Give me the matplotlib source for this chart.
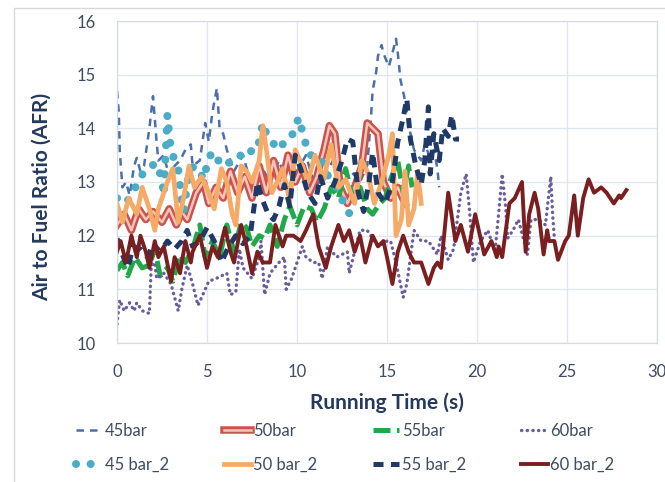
"""
AFR vs running time for the eight injection-pressure runs.
Values read off the reference chart by eye.
"""

import matplotlib
matplotlib.use("Agg")
import matplotlib.pyplot as plt
import matplotlib.patheffects as pe
from matplotlib.patches import Rectangle

plt.rcParams['font.family'] = ['Lato', 'DejaVu Sans']

# ---- data (time in s, AFR) ----
t_45 = [0.0, 0.1, 0.15, 0.3, 0.5, 0.7, 0.95, 1.1, 1.3, 1.5, 1.8, 2.0, 2.2, 2.3, 2.6, 2.9,
        3.2, 3.5, 3.8, 4.1, 4.2, 4.6, 4.9, 5.1, 5.3, 5.55, 5.7, 5.9, 6.1, 6.5, 7.0, 7.5,
        8.0, 8.5, 9.0, 9.5, 10.0, 10.5, 11.0, 11.5, 12.0, 12.5, 13.0, 13.5, 13.9, 14.1,
        14.2, 14.4, 14.5, 14.7, 14.8, 15.1, 15.3, 15.5, 15.6, 15.75, 15.95, 16.1, 16.3,
        16.5, 16.9, 17.1, 17.4, 17.6, 17.8, 17.9]
afr_45 = [14.7, 14.3, 13.6, 12.9, 13.0, 12.75, 13.3, 13.45, 13.2, 13.3, 14.0, 14.6, 13.75,
          13.4, 13.5, 13.1, 13.3, 13.4, 13.6, 13.7, 13.3, 13.4, 14.1, 13.75, 14.3, 14.75,
          14.0, 13.9, 13.6, 13.2, 13.5, 12.9, 13.3, 13.0, 13.4, 12.9, 13.2, 13.5, 12.9,
          13.1, 13.4, 12.9, 13.2, 13.0, 13.3, 14.15, 14.7, 15.05, 15.35, 15.55, 15.4,
          15.15, 15.4, 15.67, 15.4, 14.9, 14.6, 14.3, 13.9, 13.6, 13.4, 13.7, 13.45, 13.6,
          13.25, 12.9]

t_50 = [0.0, 0.4, 0.8, 1.2, 1.6, 2.0, 2.5, 2.9, 3.3, 3.6, 3.9, 4.4, 4.8, 5.1, 5.5, 5.9,
        6.3, 6.7, 7.1, 7.5, 7.9, 8.3, 8.7, 9.1, 9.5, 9.9, 10.3, 10.7, 11.1, 11.5, 11.8,
        12.1, 12.4, 12.8, 13.2, 13.6, 13.9, 14.2, 14.5, 14.8, 15.2, 15.6, 16.0]
afr_50 = [12.2, 12.4, 12.1, 12.5, 12.3, 12.45, 12.25, 12.5, 12.2, 12.45, 12.3, 12.8, 13.0,
          12.6, 12.9, 12.7, 13.2, 12.8, 13.1, 12.7, 13.3, 12.8, 13.4, 12.9, 13.5, 13.0,
          13.3, 12.8, 13.1, 13.6, 14.05, 13.9, 12.9, 12.6, 12.9, 13.3, 14.1, 14.0, 13.9,
          13.0, 12.7, 12.9, 12.6]

t_55 = [0.0, 0.3, 0.6, 1.0, 1.4, 1.8, 2.1, 2.4, 2.8, 3.1, 3.5, 3.8, 4.2, 4.6, 4.9, 5.3,
        5.7, 6.1, 6.5, 6.9, 7.2, 7.5, 7.9, 8.2, 8.5, 8.9, 9.3, 9.6, 10.0, 10.4, 10.8,
        11.1, 11.5, 11.9, 12.3, 12.7, 13.1, 13.5, 13.9, 14.2, 14.6, 14.9, 15.2, 15.6,
        15.9, 16.2, 16.4]
afr_55 = [11.35, 11.5, 11.25, 11.6, 11.4, 11.45, 11.75, 11.25, 11.4, 11.15, 11.65, 11.5,
          11.75, 12.2, 11.6, 11.9, 11.6, 12.2, 11.7, 12.25, 12.15, 11.8, 12.0, 11.95, 12.2,
          11.8, 12.3, 12.55, 12.2, 12.55, 12.5, 12.25, 12.5, 12.9, 12.7, 13.25, 12.7, 12.9,
          12.5, 12.4, 12.6, 12.7, 13.05, 13.4, 12.8, 13.3, 12.9]

t_60 = [0.0, 0.15, 0.4, 0.7, 0.95, 1.1, 1.4, 1.8, 1.9, 2.1, 2.2, 2.6, 3.0, 3.4, 3.6, 3.9,
        4.2, 4.5, 4.9, 5.1, 5.5, 6.1, 6.3, 6.6, 6.8, 7.0, 7.5, 7.9, 8.0, 8.2, 8.5, 9.0,
        9.3, 9.4, 9.7, 10.0, 10.3, 10.5, 10.9, 11.2, 11.4, 11.7, 12.2, 12.8, 12.9, 13.2,
        13.5, 13.9, 14.1, 14.5, 15.0, 15.2, 15.5, 15.9, 16.1, 16.5, 16.9, 17.3, 17.8,
        18.0, 18.4, 18.7, 19.1, 19.4, 19.6, 19.8, 20.2, 20.6, 21.0, 21.2, 21.4, 21.6,
        21.7, 22.0, 22.3, 22.8, 23.0, 23.4, 23.8, 24.1, 24.2, 24.3]
afr_60 = [10.35, 10.8, 10.6, 10.75, 10.6, 10.75, 10.6, 10.55, 11.45, 11.5, 11.2, 11.3,
          11.1, 10.6, 11.0, 11.45, 11.1, 10.7, 11.0, 11.15, 11.2, 11.3, 10.9, 10.95, 11.75,
          11.4, 11.2, 11.6, 11.9, 10.9, 11.3, 11.5, 11.6, 11.0, 11.2, 11.5, 11.8, 11.6,
          11.5, 11.5, 11.2, 11.8, 11.6, 11.7, 11.3, 11.7, 12.1, 12.1, 12.0, 11.8, 11.9,
          11.9, 11.5, 10.85, 11.1, 12.1, 11.9, 11.9, 11.65, 12.0, 11.55, 11.75, 12.8, 13.15,
          12.4, 11.5, 11.9, 12.1, 11.7, 12.4, 13.15, 12.5, 11.95, 12.1, 12.3, 11.65, 12.3,
          12.3, 12.2, 13.1, 12.4, 11.95]

t_45b = [0.0, 0.5, 0.85, 1.2, 1.5, 1.9, 2.2, 2.5, 2.6, 2.8, 2.9, 3.0, 3.2, 3.4, 3.6, 3.7,
         4.0, 4.3, 4.6, 4.8, 5.1, 5.3, 5.5, 5.8, 6.1, 6.4, 6.8, 7.2, 7.5, 7.8, 8.1, 8.3,
         8.6, 9.0, 9.4, 9.7, 10.1, 10.4, 10.7, 11.0, 11.3, 11.8, 12.2, 12.8, 13.3]
afr_45b = [12.7, 12.6, 12.8, 13.0, 13.2, 13.3, 13.35, 13.05, 12.75, 14.25, 13.9, 13.6,
           13.4, 13.25, 12.6, 12.45, 13.2, 13.3, 13.2, 13.05, 13.45, 13.55, 13.4, 13.4,
           13.3, 13.45, 13.5, 13.45, 13.6, 13.6, 14.1, 13.9, 13.75, 13.6, 13.8, 13.85,
           14.2, 13.8, 13.5, 13.5, 13.45, 13.05, 12.9, 12.45, 12.3]

t_50b = [0.0, 0.3, 0.65, 1.1, 1.4, 1.8, 2.1, 2.3, 2.8, 3.1, 3.4, 3.7, 4.0, 4.3, 4.7, 5.1,
         5.4, 5.8, 6.1, 6.4, 6.6, 6.9, 7.2, 7.5, 7.9, 8.1, 8.3, 8.6, 8.9, 9.2, 9.6, 9.9,
         10.3, 10.6, 11.0, 11.5, 11.9, 12.3, 12.7, 13.2, 13.6, 13.9, 14.3, 14.7, 15.1,
         15.3, 15.5, 15.8, 16.0, 16.2, 16.5, 16.7, 16.9]
afr_50b = [12.6, 12.25, 12.7, 12.4, 12.9, 12.5, 12.1, 12.5, 13.0, 13.25, 12.25, 12.7, 13.3,
           12.9, 13.1, 12.8, 12.5, 13.25, 13.0, 12.4, 12.2, 13.3, 13.2, 13.0, 13.4, 14.05,
           13.6, 12.8, 13.0, 13.25, 12.65, 13.6, 13.3, 13.0, 13.5, 13.05, 13.7, 12.9, 13.05,
           12.6, 13.4, 13.2, 12.6, 13.0, 13.5, 13.9, 12.0, 12.3, 13.2, 12.2, 12.5, 13.2, 12.6]

t_55b = [0.0, 0.3, 0.6, 0.9, 1.3, 1.7, 2.0, 2.4, 2.8, 3.2, 3.6, 3.9, 4.2, 4.6, 5.0, 5.4,
         5.8, 6.2, 6.6, 7.0, 7.4, 7.8, 8.1, 8.4, 8.7, 9.0, 9.3, 9.6, 9.9, 10.2, 10.6, 11.0,
         11.3, 11.7, 12.1, 12.5, 12.8, 13.1, 13.4, 13.7, 14.0, 14.2, 14.5, 14.9, 15.3,
         15.6, 15.9, 16.1, 16.3, 16.6, 16.9, 17.1, 17.3, 17.4, 17.6, 17.9, 18.1, 18.4,
         18.6, 18.8, 19.0]
afr_55b = [11.95, 11.65, 11.4, 11.8, 11.75, 11.6, 11.85, 11.7, 11.9, 11.75, 11.9, 12.1,
           11.8, 11.9, 12.15, 11.9, 11.5, 11.8, 12.0, 11.85, 12.0, 13.0, 12.65, 12.4, 12.3,
           12.55, 12.95, 12.55, 13.5, 13.25, 12.8, 12.6, 13.1, 12.7, 13.0, 13.4, 13.8,
           13.75, 12.8, 12.45, 13.0, 13.55, 12.8, 12.6, 13.0, 13.75, 14.2, 14.55, 13.8,
           13.3, 12.95, 13.4, 14.4, 13.15, 13.9, 13.4, 14.0, 13.85, 14.25, 13.8, 13.8]

t_60b = [0.0, 0.2, 0.5, 0.8, 1.1, 1.3, 1.6, 1.8, 2.1, 2.3, 2.6, 3.0, 3.2, 3.5, 3.8, 4.1,
         4.2, 4.6, 5.0, 5.3, 5.6, 6.0, 6.3, 6.5, 6.9, 7.2, 7.5, 7.8, 8.1, 8.5, 8.8, 9.2,
         9.4, 9.8, 10.2, 10.5, 10.9, 11.2, 11.6, 11.9, 12.3, 12.6, 12.9, 13.2, 13.5, 13.8,
         14.2, 14.5, 14.8, 15.0, 15.3, 15.6, 15.9, 16.2, 16.5, 16.9, 17.3, 17.6, 17.8,
         18.0, 18.4, 18.8, 19.1, 19.5, 19.9, 20.4, 20.8, 21.1, 21.2, 21.4, 21.8, 22.1,
         22.5, 22.7, 22.9, 23.2, 23.4, 23.7, 23.9, 24.0, 24.3, 24.5, 24.9, 25.1, 25.4,
         25.6, 25.9, 26.2, 26.5, 26.9, 27.2, 27.6, 27.9, 28.0, 28.3]
afr_60b = [11.7, 11.9, 11.5, 12.0, 11.6, 12.0, 11.7, 11.4, 11.9, 11.6, 11.8, 11.15, 11.6,
           11.3, 11.9, 11.5, 11.7, 12.0, 11.4, 11.8, 11.6, 12.15, 11.7, 11.5, 12.2, 11.8,
           11.3, 11.7, 11.5, 11.5, 12.2, 11.8, 12.0, 12.0, 11.9, 12.1, 12.4, 11.8, 11.4,
           11.8, 12.2, 11.9, 12.1, 11.7, 12.0, 11.5, 12.0, 11.8, 11.9, 11.6, 11.1, 11.7,
           12.0, 11.7, 11.5, 11.5, 11.1, 11.4, 11.5, 11.4, 12.8, 11.9, 12.2, 11.7, 12.4,
           11.65, 11.9, 11.6, 11.8, 11.6, 12.6, 12.7, 13.0, 11.7, 12.4, 12.8, 12.5, 11.65,
           12.1, 11.9, 11.9, 11.55, 11.9, 12.0, 12.75, 12.0, 12.7, 13.05, 12.8, 12.9, 12.8,
           12.6, 12.75, 12.7, 12.85]

x_ticks = [0, 5, 10, 15, 20, 25, 30]
y_ticks = [10, 11, 12, 13, 14, 15, 16]

TICK_COL = '#3e4c63'
LABEL_COL = '#233a5e'


def main():
    fig = plt.figure(figsize=(6.65, 4.82), dpi=100)
    ax = fig.add_axes([117 / 665, 1 - 343 / 482, 540 / 665, 322 / 482])

    # outer chart-area border (only left/top visible in the crop)
    fig.add_artist(Rectangle((13.5 / 665, -0.1), 1.2, 1 - 7.5 / 482 + 0.1,
                             transform=fig.transFigure, fill=False,
                             edgecolor='#d9d9d9', lw=1.0))

    # series 1 (row 1 of the legend)
    l45, = ax.plot(t_45, afr_45, color='#4a6fab', lw=1.8, dashes=(3.0, 2.4),
                   label='45bar')
    l50, = ax.plot(t_50, afr_50, color='#f6c4bb', lw=1.8, label='50bar',
                   path_effects=[pe.Stroke(linewidth=5.4, foreground='#c9544c'), pe.Normal()])
    l55, = ax.plot(t_55, afr_55, color='#22a84a', lw=3.6, dashes=(3.4, 1.3),
                   label='55bar')
    l60, = ax.plot(t_60, afr_60, color='#6a5d9c', lw=2.4, dashes=(0.1, 1.6),
                   dash_capstyle='round', label='60bar')

    # series 2
    l45b, = ax.plot(t_45b, afr_45b, color='#4bacc6', lw=5.8, dashes=(0.01, 1.8),
                    dash_capstyle='round', label='45 bar_2')
    l50b, = ax.plot(t_50b, afr_50b, color='#f5aa68', lw=3.4, label='50 bar_2')
    l55b, = ax.plot(t_55b, afr_55b, color='#1f3a66', lw=3.6, dashes=(2.0, 1.5),
                    label='55 bar_2')
    l60b, = ax.plot(t_60b, afr_60b, color='#7a1f20', lw=2.8, label='60 bar_2')

    ax.set_xlim(0, 30)
    ax.set_ylim(10, 16)
    ax.set_xticks(x_ticks)
    ax.set_yticks(y_ticks)
    ax.grid(True, color='#e0e6f0', lw=0.9)
    ax.set_axisbelow(True)
    for s in ax.spines.values():
        s.set_color('#d3dbe8')
        s.set_linewidth(0.9)
    ax.tick_params(length=0, labelsize=12, labelcolor=TICK_COL)
    ax.tick_params(axis='x', pad=15)
    ax.tick_params(axis='y', pad=15)

    ax.set_xlabel('Running Time (s)', fontsize=15, fontweight='bold',
                  color=LABEL_COL, labelpad=9)
    ax.set_ylabel('Air to Fuel Ratio (AFR)', fontsize=15, fontweight='bold',
                  color=LABEL_COL)
    ax.yaxis.set_label_coords(-0.12, 0.455)

    # legend filled column-wise, so interleave to get Excel's row order
    handles = [l45, l45b, l50, l50b, l55, l55b, l60, l60b]
    leg = fig.legend(handles=handles, labels=[h.get_label() for h in handles],
                     ncol=4, loc='upper left', bbox_to_anchor=(76 / 665, 1 - 423 / 482),
                     frameon=False, fontsize=12, handlelength=1.6,
                     handletextpad=0.15, columnspacing=3.3, labelspacing=1.05,
                     borderpad=0, borderaxespad=0)
    for txt in leg.get_texts():
        txt.set_color(TICK_COL)

    fig.savefig('out.png', dpi=100)
    plt.close(fig)


if __name__ == "__main__":
    main()
